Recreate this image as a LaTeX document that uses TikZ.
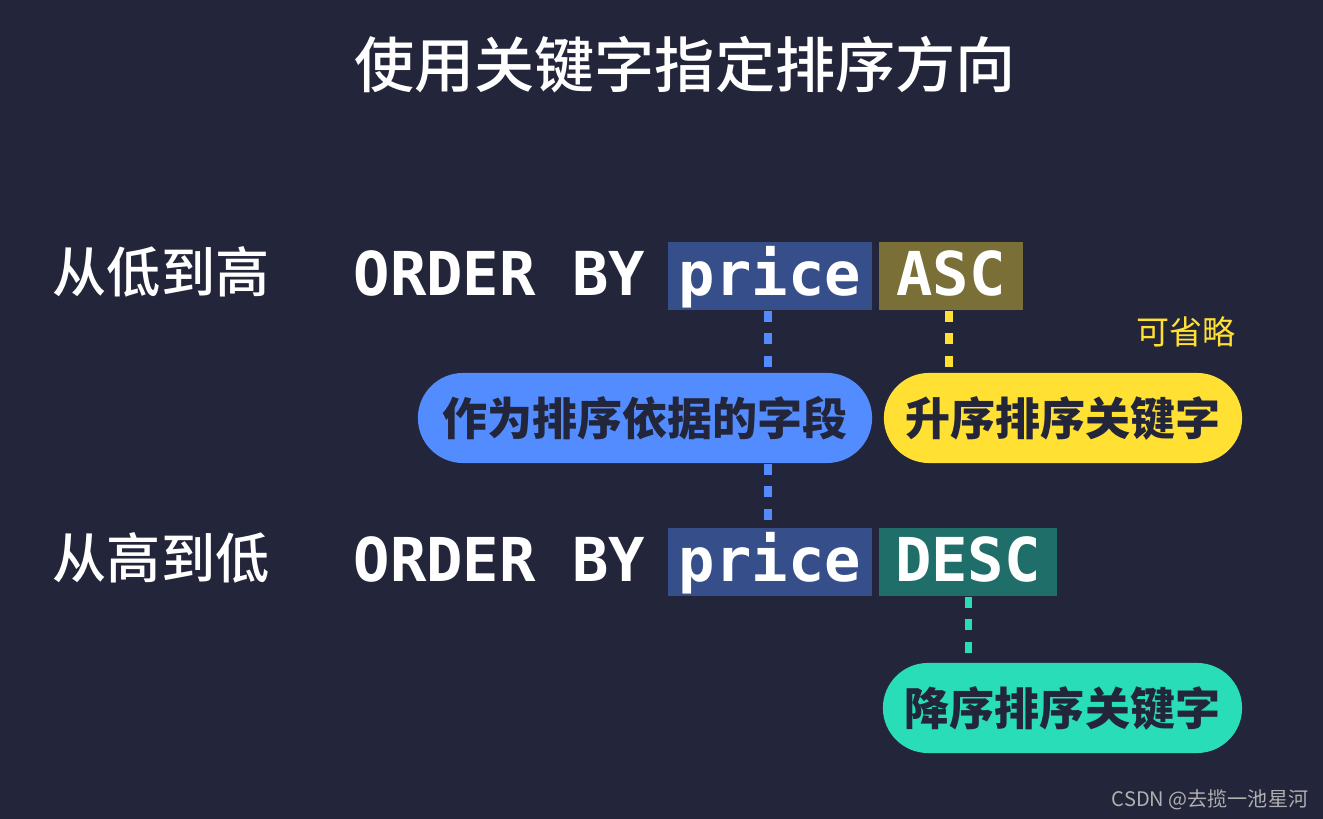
\documentclass[tikz,border=0pt]{standalone}
\usepackage{fontspec}
\newfontfamily\cjk{Noto Sans CJK SC}
\newfontfamily\cjkm{Noto Sans CJK SC Medium}
\newfontfamily\mono{DejaVu Sans Mono}
\definecolor{bgc}{RGB}{35,37,58}
\definecolor{pricebox}{RGB}{54,78,138}
\definecolor{ascbox}{RGB}{122,111,55}
\definecolor{descbox}{RGB}{31,110,105}
\definecolor{bluepill}{RGB}{82,140,255}
\definecolor{yellowpill}{RGB}{255,224,51}
\definecolor{greenpill}{RGB}{40,221,184}
\definecolor{wm}{RGB}{176,176,176}
\tikzset{
  monotext/.style={font=\mono\bfseries\fontsize{17.2pt}{20pt}\selectfont, text=white,
    text height=0.48cm, text depth=0.1cm, inner sep=0pt},
  codebox/.style={monotext, minimum height=0.68cm},
  rowlabel/.style={font=\cjkm\fontsize{15.4pt}{18pt}\selectfont, text=white, inner sep=0pt},
  pill/.style={font=\cjk\bfseries\fontsize{12.8pt}{15pt}\selectfont, text=bgc,
    minimum height=0.9cm, rounded corners=0.45cm, inner sep=0pt},
  dashline/.style={line width=0.07cm, dash pattern=on 0.11cm off 0.115cm},
}
\begin{document}
\begin{tikzpicture}[x=0.01cm,y=-0.01cm]
\fill[bgc] (0,0) rectangle (1323,819);
\useasboundingbox (0,0) rectangle (1323,819);
\node[font=\cjkm\fontsize{17.1pt}{20pt}\selectfont, text=white, inner sep=0pt] (title) at (685,65) {使用关键字指定排序方向};
% row 1
\node[rowlabel] (lab1) at (161,272) {从低到高};
\node[monotext, anchor=west] (ob1) at (353,276) {ORDER BY};
\node[codebox, fill=pricebox, minimum width=2.04cm] (price1) at (770,276) {price};
\node[codebox, fill=ascbox, minimum width=1.44cm] (asc) at (951,276) {ASC};
% row 2
\node[rowlabel] (lab2) at (161,558) {从高到低};
\node[monotext, anchor=west] (ob2) at (353,562) {ORDER BY};
\node[codebox, fill=pricebox, minimum width=2.04cm] (price2) at (770,562) {price};
\node[codebox, fill=descbox, minimum width=1.78cm] (desc) at (968,562) {DESC};
% pills
\node[pill, fill=bluepill, minimum width=4.54cm] (field) at (645,418) {作为排序依据的字段};
\node[pill, fill=yellowpill, minimum width=3.58cm] (ascp) at (1063,418) {升序排序关键字};
\node[pill, fill=greenpill, minimum width=3.59cm] (descp) at (1062.5,708) {降序排序关键字};
\node[font=\cjk\fontsize{9.4pt}{11pt}\selectfont, text=yellowpill, inner sep=0pt] (opt) at (1186,332) {可省略};
% connectors
\draw[dashline, bluepill] ([xshift=-0.02cm]price1.south) -- ([xshift=-0.02cm]price1.south |- field.north);
\draw[dashline, bluepill] ([xshift=-0.02cm]price2.north |- field.south) -- ([xshift=-0.02cm]price2.north);
\draw[dashline, yellowpill] ([xshift=-0.02cm]asc.south) -- ([xshift=-0.02cm]asc.south |- ascp.north);
\draw[dashline, greenpill] (desc.south) -- (desc.south |- descp.north);
% watermark
\node[font=\cjk\fontsize{5.7pt}{7pt}\selectfont, text=wm, inner sep=0pt] (wmk) at (1210,800) {CSDN @去揽一池星河};
\end{tikzpicture}
\end{document}
